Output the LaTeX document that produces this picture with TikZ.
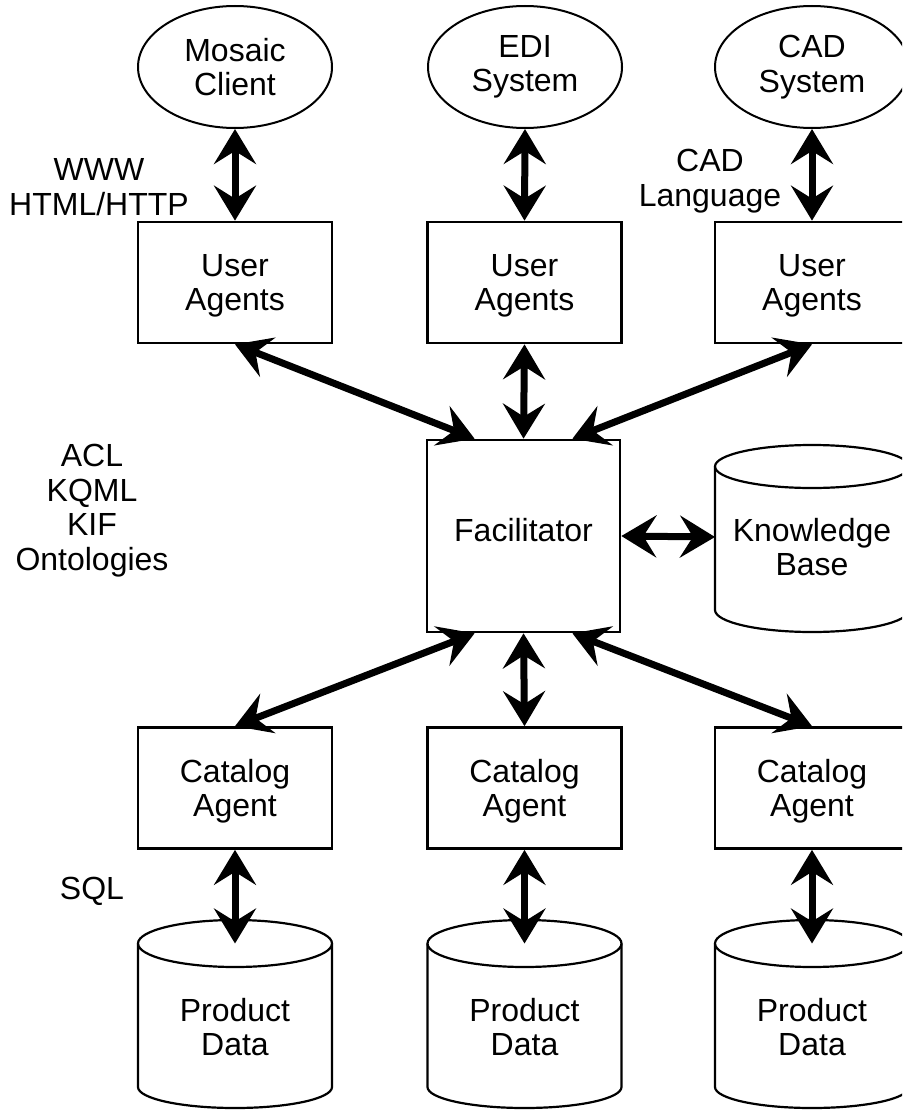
\documentclass[tikz,border=0pt]{standalone}
\usepackage{fontspec}
\setmainfont{Liberation Sans}
\usetikzlibrary{arrows.meta,shapes.geometric,calc}
\begin{document}
\begin{tikzpicture}[x=1pt,y=-1pt,
  every node/.style={font=\fontsize{32}{34.5}\selectfont, align=center},
  ell/.style={ellipse, draw, line width=2pt, minimum width=194pt, minimum height=122pt, inner sep=0pt},
  box/.style={rectangle, draw, line width=2.7pt, minimum width=194pt, minimum height=121pt, inner sep=0pt, text depth=0pt},
  link/.style={line width=7pt, {Stealth[length=35pt,width=42pt,inset=13pt]}-{Stealth[length=35pt,width=42pt,inset=13pt]}},
  cyl/.style={line width=2.2pt},
  lbl/.style={inner sep=0pt, text depth=0pt}
]
\clip (0,0) rectangle (902,1110);

% top row: clients
\node[ell] (mos) at (235,67) {Mosaic\\Client};
\node[ell] (edi) at (525,67) {EDI\\System};
\node[ell] (cad) at (812,67) {CAD\\System};

% user agents
\node[box] (ua1) at (235,282.5) {User\\Agents};
\node[box] (ua2) at (524.5,282.5) {User\\Agents};
\node[box] (ua3) at (812,282.5) {User\\Agents};

% facilitator
\node[box, minimum width=193pt, minimum height=192pt, text depth=13pt] (fac) at (523.5,536) {Facilitator};

% catalog agents
\node[box] (ca1) at (235,788) {Catalog\\Agent};
\node[box] (ca2) at (524.5,788) {Catalog\\Agent};
\node[box] (ca3) at (812,788) {Catalog\\Agent};

% knowledge base cylinder
\draw[cyl] (812,466.5) ellipse (97 and 21.5);
\draw[cyl] (715,466.5) -- (715,610) arc (180:0:97 and 22) -- (909,466.5);
\node[lbl] (kbt) at (812,547) {Knowledge\\Base};
\coordinate (kbw) at (715,537);

% product data cylinders
\foreach \cx/\nm in {235/pd1, 524.5/pd2, 812/pd3}{
  \draw[cyl] (\cx,943.5) ellipse (97 and 23.5);
  \draw[cyl] (\cx-97,943.5) -- (\cx-97,1087) arc (180:0:97 and 21) -- (\cx+97,943.5);
  \node[lbl] (\nm t) at (\cx,1027) {Product\\Data};
  \coordinate (\nm) at (\cx,943.5);
}

% labels
\node[lbl] (www) at (99,187) {WWW\\HTML/HTTP};
\node[lbl] (cadl) at (710,178) {CAD\\Language};
\node[lbl] (acl) at (92,507.5) {ACL\\KQML\\KIF\\Ontologies};
\node[lbl] (sql) at (92,888) {SQL};

% connectors
\draw[link] (mos.south) -- (ua1.north);
\draw[link] (edi.south) -- (ua2.north);
\draw[link] (cad.south) -- (ua3.north);
\draw[link] (ua1.south) -- ($(fac.north west)!0.25!(fac.north east)$);
\draw[link] (ua2.south) -- (fac.north);
\draw[link] (ua3.south) -- ($(fac.north west)!0.75!(fac.north east)$);
\draw[link] (fac.east) -- (kbw);
\draw[link] (ca1.north) -- ($(fac.south west)!0.25!(fac.south east)$);
\draw[link] (ca2.north) -- (fac.south);
\draw[link] (ca3.north) -- ($(fac.south west)!0.75!(fac.south east)$);
\draw[link] (ca1.south) -- (pd1);
\draw[link] (ca2.south) -- (pd2);
\draw[link] (ca3.south) -- (pd3);
\end{tikzpicture}
\end{document}
